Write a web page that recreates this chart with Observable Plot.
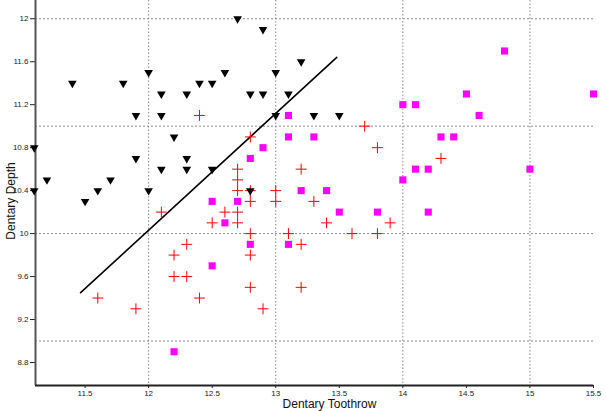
<!DOCTYPE html>
<html>
<head>
<meta charset="utf-8">
<script src="https://cdn.jsdelivr.net/npm/d3@7"></script>
<script src="https://cdn.jsdelivr.net/npm/@observablehq/plot@0.6"></script>
<style>
  html, body { margin: 0; padding: 0; background: #fff; }
  #chart svg { display: block; font-family: "Liberation Sans", Arial, sans-serif; }
</style>
</head>
<body>
<div id="chart"></div>
<script>
// Group 1: black downward triangles
const triX = [11.1, 11.1, 11.2, 11.4, 11.5, 11.6, 11.7, 11.8, 11.9, 11.9, 12.0, 12.0, 12.1, 12.1, 12.1, 12.2, 12.3, 12.3, 12.3, 12.4, 12.5, 12.5, 12.6, 12.7, 12.8, 12.8, 12.9, 12.9, 13.0, 13.0, 13.1, 13.2, 13.3, 13.5];
const triY = [10.8, 10.4, 10.5, 11.4, 10.3, 10.4, 10.5, 11.4, 11.1, 10.7, 11.5, 10.4, 11.3, 11.1, 10.6, 10.9, 11.3, 10.7, 10.6, 11.4, 11.4, 10.6, 11.5, 12.0, 11.3, 10.4, 11.9, 11.3, 11.5, 11.1, 11.3, 11.6, 11.1, 11.1];

// Group 2: red plus signs
const plusX = [11.6, 11.9, 12.1, 12.2, 12.2, 12.3, 12.3, 12.4, 12.4, 12.5, 12.6, 12.7, 12.7, 12.7, 12.7, 12.7, 12.8, 12.8, 12.8, 12.8, 12.8, 12.8, 12.9, 13.0, 13.0, 13.1, 13.2, 13.2, 13.2, 13.3, 13.4, 13.6, 13.7, 13.8, 13.8, 13.9, 14.3];
const plusY = [9.4, 9.3, 10.2, 9.8, 9.6, 9.9, 9.6, 11.1, 9.4, 10.1, 10.2, 10.6, 10.5, 10.4, 10.2, 10.1, 10.9, 10.4, 10.3, 10.0, 9.8, 9.5, 9.3, 10.4, 10.3, 10.0, 10.6, 9.9, 9.5, 10.3, 10.1, 10.0, 11.0, 10.8, 10.0, 10.1, 10.7];

// Group 3: magenta squares
const sqX = [12.2, 12.5, 12.5, 12.6, 12.7, 12.8, 12.8, 12.9, 13.1, 13.1, 13.1, 13.2, 13.3, 13.4, 13.5, 13.8, 14.0, 14.0, 14.1, 14.1, 14.2, 14.2, 14.3, 14.4, 14.5, 14.6, 14.8, 15.0, 15.5];
const sqY = [8.9, 10.3, 9.7, 10.1, 10.3, 10.7, 9.9, 10.8, 11.1, 10.9, 9.9, 10.4, 10.9, 10.4, 10.2, 10.2, 11.2, 10.5, 11.2, 10.6, 10.6, 10.2, 10.9, 10.9, 11.3, 11.1, 11.7, 10.6, 11.3];

// Separating line
const lineX = [11.465, 13.48];
const lineY = [9.45, 11.64];

// Axes
const xDomain = [11.11, 15.5];
const yDomain = [8.586, 12.17];
const xTicks = [11.5, 12, 12.5, 13, 13.5, 14, 14.5, 15, 15.5];
const yTicks = [8.8, 9.2, 9.6, 10, 10.4, 10.8, 11.2, 11.6, 12];
const xGrid = [12, 13, 14, 15];
const yGrid = [9, 10, 11, 12];
const xLabel = "Dentary Toothrow";
const yLabel = "Dentary Depth";

const tri = triX.map((x, i) => ({x, y: triY[i]}));
const plus = plusX.map((x, i) => ({x, y: plusY[i]}));
const sq = sqX.map((x, i) => ({x, y: sqY[i]}));
const line = lineX.map((x, i) => ({x, y: lineY[i]}));

const chart = Plot.plot({
  width: 606,
  height: 411,
  marginLeft: 35,
  marginRight: 13,
  marginTop: 0,
  marginBottom: 26,
  style: {fontFamily: "'Liberation Sans', Arial, sans-serif", background: "#fff"},
  x: {domain: xDomain, ticks: xTicks},
  y: {domain: yDomain, ticks: yTicks},
  marks: [
    Plot.ruleX(xGrid, {stroke: "#8a8a8a", strokeDasharray: "1.5,2", strokeWidth: 1}),
    Plot.ruleY(yGrid, {stroke: "#8a8a8a", strokeDasharray: "2,2", strokeWidth: 1}),
    Plot.axisX({ticks: xTicks, tickSize: 3, tickPadding: 2, fontSize: 8, label: null, tickFormat: d => String(d), color: "#222"}),
    Plot.axisY({ticks: yTicks, tickSize: 5, tickPadding: 2, fontSize: 8, label: null, tickFormat: d => String(d), color: "#222"}),
    Plot.ruleX([xDomain[0]], {stroke: "#555", strokeWidth: 2}),
    Plot.ruleY([yDomain[0]], {stroke: "#222", strokeWidth: 2}),
    Plot.text([xLabel], {frameAnchor: "bottom", textAnchor: "middle", lineAnchor: "middle", dy: 19, dx: 15, fontSize: 12, fill: "#111"}),
    Plot.text([yLabel], {frameAnchor: "left", textAnchor: "middle", lineAnchor: "middle", dx: -24, dy: 8, rotate: -90, fontSize: 12, fill: "#111"}),
    Plot.line(line, {x: "x", y: "y", stroke: "#000", strokeWidth: 1.6}),
    Plot.dot(plus, {x: "x", y: "y", symbol: "plus", r: 3.6, stroke: "#ff0000", strokeWidth: 1}),
    Plot.dot(sq, {x: "x", y: "y", symbol: "square", r: 4, fill: "#ff00ff", stroke: null}),
    Plot.dot(tri, {x: "x", y: "y", symbol: "triangle", rotate: 180, r: 3.2, fill: "#000", stroke: null})
  ]
});
document.getElementById("chart").appendChild(chart);
</script>
</body>
</html>
